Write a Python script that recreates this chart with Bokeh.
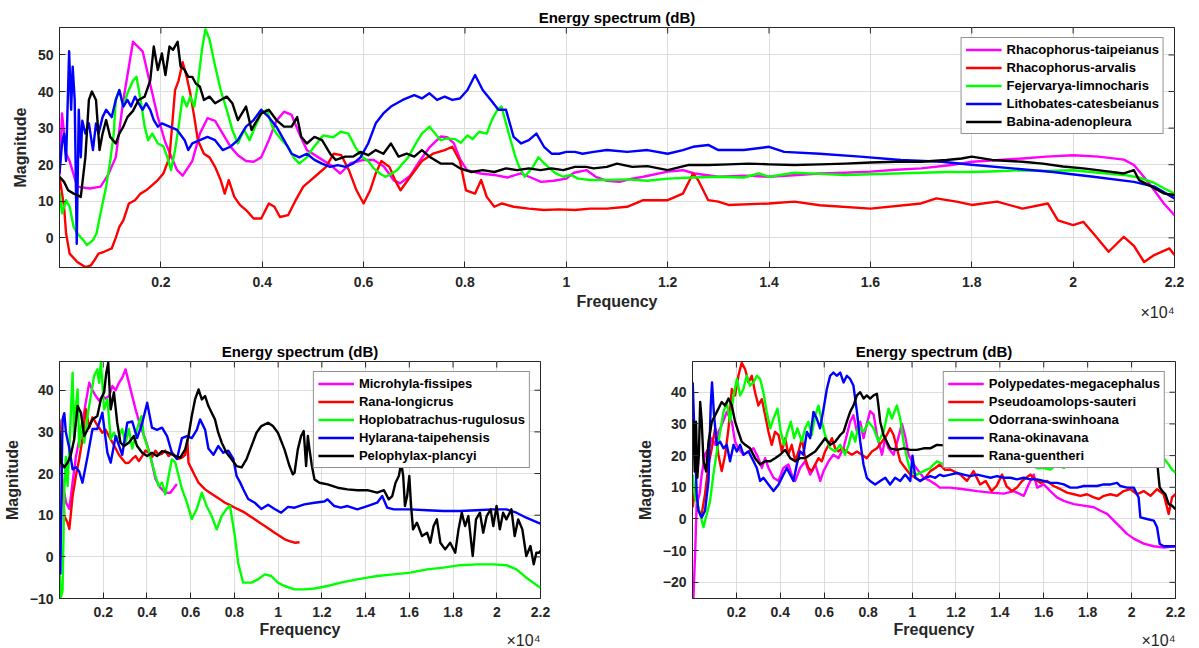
from bokeh.plotting import figure
from bokeh.layouts import column, row
from bokeh.models import Range1d, FixedTicker, Title
from bokeh.embed import file_html
from bokeh.resources import INLINE

# ---------------- data (x in units of 1e4 Hz) ----------------
X_TICKS = [0.2, 0.4, 0.6, 0.8, 1.0, 1.2, 1.4, 1.6, 1.8, 2.0, 2.2]
X_TICK_LABELS = ["0.2", "0.4", "0.6", "0.8", "1", "1.2", "1.4", "1.6", "1.8", "2", "2.2"]
TOP_Y_TICKS = [0, 10, 20, 30, 40, 50]
BL_Y_TICKS = [-10, 0, 10, 20, 30, 40]
BR_Y_TICKS = [-20, -10, 0, 10, 20, 30, 40]

TOP_NAMES = ["Rhacophorus-taipeianus", "Rhacophorus-arvalis", "Fejervarya-limnocharis",
             "Lithobates-catesbeianus", "Babina-adenopleura"]
BL_NAMES = ["Microhyla-fissipes", "Rana-longicrus", "Hoplobatrachus-rugulosus",
            "Hylarana-taipehensis", "Pelophylax-plancyi"]
BR_NAMES = ["Polypedates-megacephalus", "Pseudoamolops-sauteri", "Odorrana-swinhoana",
            "Rana-okinavana", "Rana-guentheri"]
COLORS = ["#FF00FF", "#FF0000", "#00FF00", "#0000FF", "#000000"]

TOP_TAIPEIANUS = [(0.0, 17), (0.005, 34), (0.013, 23), (0.02, 21), (0.035, 14), (0.06, 13.5), (0.081, 14),
    (0.095, 17), (0.111, 22), (0.126, 37.7), (0.145, 53.6), (0.164, 51), (0.179, 42), (0.194, 33),
    (0.209, 26), (0.232, 18.5), (0.243, 17), (0.262, 21), (0.277, 28.5), (0.292, 32.7), (0.307, 32),
    (0.322, 28.5), (0.337, 25), (0.352, 22.6), (0.368, 21), (0.383, 20.8), (0.398, 22), (0.413, 26.7),
    (0.428, 32), (0.443, 34.5), (0.458, 33.6), (0.473, 28.5), (0.488, 24), (0.511, 22), (0.534, 20),
    (0.554, 17.6), (0.574, 20.4), (0.6, 21.3), (0.62, 21.3), (0.64, 19.5), (0.659, 15.8), (0.672, 14.9),
    (0.692, 17), (0.712, 21.3), (0.731, 24.9), (0.752, 27.7), (0.765, 27.5), (0.778, 25.9), (0.791, 21.3),
    (0.804, 18.5), (0.831, 17.6), (0.857, 17.2), (0.884, 16.5), (0.91, 17.6), (0.93, 16.5), (0.95, 15.3),
    (0.975, 15.6), (1.0, 16.2), (1.015, 17.8), (1.04, 18.5), (1.058, 16.7), (1.08, 15.6), (1.105, 15.3),
    (1.13, 16.2), (1.152, 16.7), (1.2, 18.1), (1.23, 18.5), (1.253, 17.6), (1.3, 16.7), (1.354, 17),
    (1.4, 16.7), (1.448, 17.1), (1.5, 17.6), (1.549, 17.8), (1.6, 18.1), (1.651, 18.6), (1.7, 19),
    (1.76, 19.9), (1.8, 20.8), (1.846, 21.2), (1.9, 21.7), (1.947, 22.2), (2.0, 22.6), (2.05, 22.2),
    (2.1, 21.4), (2.12, 19.9), (2.15, 14.9), (2.179, 9.4), (2.2, 6.2)]

TOP_ARVALIS = [(0.0, 16.7), (0.009, 8.5), (0.013, 1.2), (0.02, -4.3), (0.035, -6.6), (0.051, -8), (0.062, -7.5),
    (0.069, -6.1), (0.077, -4.3), (0.088, -3.8), (0.103, -2.9), (0.111, 0), (0.118, 3), (0.126, 4.8),
    (0.137, 9.4), (0.149, 10.3), (0.16, 12.1), (0.171, 13), (0.183, 14.4), (0.194, 15.8), (0.205, 17.6),
    (0.217, 22), (0.228, 40.4), (0.235, 43), (0.243, 48), (0.251, 44), (0.258, 39.5), (0.266, 33),
    (0.273, 26.7), (0.285, 23), (0.296, 22), (0.307, 19.4), (0.318, 15.8), (0.326, 12.1), (0.334, 15.8),
    (0.345, 11.2), (0.356, 9), (0.368, 7.6), (0.383, 5.3), (0.398, 5.3), (0.413, 9.4), (0.424, 8.5),
    (0.435, 5.7), (0.451, 6.2), (0.466, 10.3), (0.481, 14), (0.496, 15.8), (0.511, 17.6), (0.526, 19.4),
    (0.541, 23), (0.556, 22.6), (0.571, 18.5), (0.586, 13), (0.6, 9.4), (0.613, 13), (0.624, 17.6),
    (0.635, 21), (0.651, 19.4), (0.662, 15.8), (0.673, 13), (0.692, 16.7), (0.715, 21), (0.737, 23),
    (0.76, 24), (0.775, 24.9), (0.79, 21), (0.802, 13), (0.82, 12.1), (0.832, 15.8), (0.843, 11.2),
    (0.858, 8.5), (0.873, 9.4), (0.896, 8.5), (0.926, 8), (0.956, 7.6), (0.986, 7.8), (1.017, 7.6),
    (1.047, 8), (1.08, 8), (1.12, 8.5), (1.152, 10.3), (1.2, 10.3), (1.23, 12.1), (1.25, 17.6),
    (1.26, 15.8), (1.28, 10.3), (1.3, 9.9), (1.32, 9), (1.4, 9.4), (1.45, 9.9), (1.5, 8.9), (1.6, 8),
    (1.7, 9.4), (1.73, 10.8), (1.77, 9.9), (1.8, 9), (1.85, 9.9), (1.9, 8), (1.95, 9.4), (1.97, 4.8),
    (2.0, 3.5), (2.02, 4.4), (2.04, 1.2), (2.07, -3.8), (2.1, 0.3), (2.12, -2.2), (2.14, -6.6),
    (2.16, -4.7), (2.19, -2.9), (2.2, -4.7)]

TOP_LIMNOCHARIS = [(0.0, 12.6), (0.005, 6.7), (0.013, 10.3), (0.02, 8.5), (0.028, 3), (0.035, 1.2), (0.047, -0.6),
    (0.054, -2), (0.066, -0.6), (0.073, 1.2), (0.081, 6.7), (0.092, 14), (0.1, 21), (0.107, 28.5),
    (0.111, 37.7), (0.118, 40.4), (0.126, 35.9), (0.134, 39.5), (0.145, 43), (0.152, 44), (0.16, 37.7),
    (0.168, 30.4), (0.175, 26.7), (0.183, 28.5), (0.194, 25.8), (0.205, 25), (0.213, 22), (0.22, 18.5),
    (0.228, 24), (0.235, 30.4), (0.243, 38.6), (0.251, 35.9), (0.258, 38.6), (0.266, 35.9), (0.273, 42),
    (0.281, 51.4), (0.288, 57), (0.296, 54.3), (0.307, 47), (0.318, 40.4), (0.33, 35), (0.341, 29.5),
    (0.352, 25.8), (0.364, 29.5), (0.375, 26.7), (0.386, 30.4), (0.398, 34), (0.409, 35), (0.42, 30.4),
    (0.428, 28.5), (0.439, 26.7), (0.451, 24.9), (0.462, 22), (0.473, 20.3), (0.488, 22), (0.5, 24.5),
    (0.52, 28), (0.54, 27.5), (0.555, 29), (0.57, 28.5), (0.585, 24.5), (0.598, 22), (0.609, 21),
    (0.62, 19), (0.632, 17.6), (0.643, 16.7), (0.655, 17.5), (0.666, 18.5), (0.677, 20.3), (0.688, 22),
    (0.703, 25.8), (0.715, 28.5), (0.73, 30.4), (0.741, 28.5), (0.752, 26.7), (0.765, 27.2), (0.78, 27),
    (0.792, 26), (0.805, 28), (0.815, 27), (0.828, 29), (0.843, 28.5), (0.853, 32.2), (0.864, 35),
    (0.872, 35.9), (0.881, 31.3), (0.892, 25.8), (0.9, 22), (0.907, 19.4), (0.918, 16.7), (0.934, 19.4),
    (0.945, 22), (0.952, 21), (0.964, 19.4), (0.979, 17.6), (0.994, 16.7), (1.009, 17.2), (1.023, 16.2),
    (1.047, 15.8), (1.08, 15.8), (1.12, 16), (1.16, 15.6), (1.2, 16.2), (1.25, 16.5), (1.3, 16.7),
    (1.35, 16.5), (1.38, 17.6), (1.4, 16.7), (1.45, 17.8), (1.5, 17.5), (1.55, 17.2), (1.6, 17.4),
    (1.65, 17.6), (1.7, 17.8), (1.75, 18), (1.8, 18), (1.85, 18.2), (1.9, 18.5), (1.95, 18.3),
    (2.0, 18.5), (2.05, 17.8), (2.1, 17.2), (2.13, 16.5), (2.16, 15), (2.18, 13.5), (2.2, 12.1)]

TOP_CATESBEIANUS = [(0.0, 17.6), (0.005, 25.8), (0.009, 28.5), (0.013, 21), (0.019, 51), (0.023, 35), (0.026, 46.8),
    (0.03, 37.7), (0.034, -1.6), (0.038, 35), (0.042, 22), (0.045, 32), (0.051, 28.5), (0.058, 31.3),
    (0.066, 24), (0.072, 31.3), (0.077, 28.5), (0.085, 33), (0.092, 35), (0.103, 33), (0.111, 37.7),
    (0.118, 40.4), (0.126, 35.9), (0.134, 37.7), (0.141, 35.9), (0.149, 38.6), (0.156, 36.8), (0.164, 35),
    (0.171, 36.8), (0.179, 35), (0.186, 32.2), (0.194, 30.4), (0.202, 31.3), (0.217, 30.4), (0.232, 29.5),
    (0.247, 26.7), (0.254, 24), (0.262, 25.8), (0.277, 26.7), (0.292, 27.6), (0.307, 26.7), (0.322, 24),
    (0.337, 24.9), (0.352, 26.7), (0.368, 30.4), (0.383, 32.2), (0.398, 35), (0.413, 33), (0.428, 30.4),
    (0.443, 26.7), (0.458, 23), (0.473, 22), (0.488, 23), (0.503, 21.3), (0.518, 20.3), (0.534, 19.4),
    (0.549, 19.9), (0.564, 19.4), (0.579, 20.3), (0.594, 22), (0.609, 25.8), (0.624, 31.3), (0.639, 34),
    (0.654, 35.9), (0.677, 37.7), (0.7, 39), (0.715, 38.1), (0.73, 39.5), (0.745, 37.7), (0.76, 38.6),
    (0.775, 37.7), (0.79, 38.1), (0.805, 40.4), (0.82, 44.5), (0.835, 40.4), (0.851, 37.7), (0.866, 35),
    (0.881, 35), (0.896, 27.6), (0.911, 25.8), (0.926, 26.7), (0.941, 28.5), (0.956, 24.9), (0.971, 23),
    (0.986, 23), (1.0, 23.5), (1.017, 23.5), (1.032, 23), (1.054, 23.5), (1.08, 24), (1.12, 23.5),
    (1.16, 24), (1.2, 23), (1.23, 24), (1.25, 24.9), (1.28, 25.4), (1.3, 24), (1.35, 24), (1.4, 24.9),
    (1.43, 23.5), (1.5, 23), (1.58, 22.2), (1.66, 21.3), (1.74, 20.8), (1.8, 20), (1.88, 19), (1.96, 18),
    (2.04, 16.7), (2.12, 15.3), (2.16, 14), (2.2, 10.8)]

TOP_ADENOPLEURA = [(0.0, 16.7), (0.009, 15.3), (0.017, 13), (0.028, 12.1), (0.035, 11.7), (0.042, 11.2), (0.051, 22),
    (0.058, 37.7), (0.064, 40), (0.072, 37.7), (0.079, 24), (0.085, 28.5), (0.092, 32.2), (0.1, 27.6),
    (0.111, 25.8), (0.118, 28.5), (0.126, 30.4), (0.134, 33), (0.145, 34.7), (0.156, 37.7), (0.168, 38.6),
    (0.179, 43), (0.186, 52.3), (0.194, 45.9), (0.202, 50.4), (0.209, 44.5), (0.217, 52.3), (0.224, 51.4),
    (0.233, 53.6), (0.239, 46.8), (0.247, 45.9), (0.254, 44), (0.262, 44), (0.269, 42.2), (0.277, 41.3),
    (0.285, 37.7), (0.296, 38.6), (0.307, 36.8), (0.318, 37.7), (0.33, 38.6), (0.341, 36.8), (0.352, 32.2),
    (0.368, 35.9), (0.379, 29.5), (0.386, 31.3), (0.398, 34), (0.413, 35), (0.428, 32.2), (0.443, 30.4),
    (0.458, 30.4), (0.469, 33), (0.477, 27.6), (0.488, 25.8), (0.503, 27.6), (0.518, 26.7), (0.534, 23),
    (0.545, 21.3), (0.564, 22.2), (0.579, 22.2), (0.594, 23.5), (0.609, 22.6), (0.624, 24), (0.639, 23),
    (0.654, 25.8), (0.669, 22.2), (0.685, 23), (0.7, 22.2), (0.715, 24), (0.73, 22.2), (0.752, 20.3),
    (0.775, 20.3), (0.79, 19), (0.813, 18), (0.835, 18.5), (0.858, 18), (0.881, 19), (0.903, 18.5),
    (0.926, 19), (0.949, 18.5), (0.971, 19), (0.994, 18.5), (1.017, 19.4), (1.039, 19.4), (1.054, 19),
    (1.08, 19.4), (1.1, 20.3), (1.13, 19.4), (1.16, 19.6), (1.2, 18.5), (1.24, 19.9), (1.28, 19.9),
    (1.32, 20.1), (1.36, 20.3), (1.4, 20.1), (1.45, 19.9), (1.5, 20.1), (1.55, 20.3), (1.6, 20.6),
    (1.65, 20.8), (1.7, 20.8), (1.75, 21.3), (1.78, 21.7), (1.8, 22.2), (1.84, 21.3), (1.9, 20.8),
    (1.94, 20.3), (1.98, 19.5), (2.02, 19), (2.06, 18.3), (2.1, 17.6), (2.12, 18.5), (2.13, 15.8),
    (2.155, 14), (2.18, 12.1), (2.2, 11.7)]

BL_FISSIPES = [(0.02, 16), (0.03, 13), (0.045, 11.5), (0.06, 18), (0.075, 24), (0.09, 28), (0.105, 32.2),
    (0.12, 37), (0.136, 41.8), (0.151, 40), (0.166, 38.6), (0.181, 37.5), (0.196, 38.6), (0.211, 38),
    (0.226, 38.6), (0.242, 41), (0.257, 40), (0.272, 41.8), (0.287, 43), (0.302, 45), (0.325, 40.2),
    (0.348, 35.4), (0.37, 31.4), (0.393, 28.2), (0.416, 24.2), (0.439, 18.7), (0.461, 16.6),
    (0.484, 15.4), (0.507, 15.4), (0.53, 17), (0.537, 17.5)]

BL_LONGICRUS = [(0.0, 33), (0.007, 24), (0.022, 9.8), (0.037, 8.2), (0.045, 6.7), (0.06, 14.6), (0.075, 19.4),
    (0.09, 23.5), (0.105, 28.3), (0.12, 35.5), (0.136, 31), (0.151, 33.5), (0.166, 32.2), (0.181, 31),
    (0.196, 29.8), (0.211, 30.5), (0.226, 29), (0.242, 27.5), (0.257, 26), (0.272, 24.5), (0.287, 23.5),
    (0.302, 22.5), (0.317, 22.6), (0.333, 23.5), (0.348, 24.2), (0.363, 23), (0.378, 24.2), (0.393, 25.5),
    (0.408, 25), (0.424, 24), (0.439, 25.5), (0.454, 24.5), (0.469, 24.8), (0.484, 25.5), (0.499, 24.2),
    (0.514, 25), (0.53, 24.2), (0.545, 23.5), (0.56, 23.8), (0.575, 24.5), (0.585, 28), (0.59, 22.6),
    (0.605, 21), (0.62, 19.4), (0.636, 17.8), (0.651, 17), (0.666, 16.2), (0.688, 15.4), (0.711, 14.6),
    (0.734, 13.8), (0.757, 13), (0.78, 12.4), (0.802, 11.8), (0.825, 11.2), (0.848, 10.6), (0.87, 9.8),
    (0.893, 9), (0.916, 8.2), (0.939, 7.4), (0.961, 6.6), (0.984, 5.8), (1.007, 5), (1.03, 4.2),
    (1.052, 3.8), (1.075, 3.4), (1.098, 3.5)]

BL_RUGULOSUS = [(0.0, -3.8), (0.007, -9.6), (0.014, -8), (0.022, 16.3), (0.029, 24), (0.037, 17), (0.048, 29.8),
    (0.06, 44.2), (0.067, 28), (0.075, 36.2), (0.083, 40.2), (0.09, 26.5), (0.102, 32.2), (0.113, 27.4),
    (0.128, 33.8), (0.143, 38.6), (0.158, 43.4), (0.173, 45), (0.181, 41.8), (0.189, 46.6), (0.196, 41.8),
    (0.204, 35.4), (0.219, 37.8), (0.234, 28.3), (0.249, 29.8), (0.264, 28.3), (0.287, 30.7), (0.302, 27.4),
    (0.317, 30.7), (0.333, 26), (0.348, 29.2), (0.363, 32.2), (0.375, 33.8), (0.386, 29), (0.401, 26.6),
    (0.423, 22.6), (0.439, 19.4), (0.454, 17), (0.469, 17.8), (0.484, 15), (0.499, 19.4), (0.514, 23.4),
    (0.53, 22.6), (0.545, 19.4), (0.56, 16.3), (0.583, 13), (0.605, 9.1), (0.628, 11.5), (0.651, 15.4),
    (0.673, 12.2), (0.696, 9.8), (0.719, 6.6), (0.742, 9.8), (0.764, 11.5), (0.78, 12.2), (0.802, 5),
    (0.817, -1.4), (0.84, -6.2), (0.878, -6.2), (0.908, -5.4), (0.939, -4.2), (0.969, -4.6), (0.999, -6.2),
    (1.029, -7), (1.075, -7.8), (1.12, -7.8), (1.166, -7.6), (1.226, -7), (1.287, -6.2), (1.362, -5.4),
    (1.408, -5), (1.453, -4.6), (1.529, -4.2), (1.605, -3.8), (1.681, -3), (1.756, -2.6), (1.832, -2),
    (1.908, -1.8), (1.984, -1.8), (2.044, -2), (2.09, -3), (2.135, -5), (2.188, -7), (2.2, -7.4)]

BL_TAIPEHENSIS = [(0.0, 8), (0.004, -4), (0.01, 20), (0.014, 33), (0.022, 34.5), (0.029, 30), (0.045, 26),
    (0.06, 21), (0.075, 21.5), (0.09, 20.5), (0.105, 17.8), (0.128, 24), (0.151, 30.7), (0.173, 30.7),
    (0.196, 34.6), (0.219, 25), (0.234, 22.6), (0.257, 29), (0.287, 24.5), (0.31, 32.2), (0.333, 32.5),
    (0.355, 28.5), (0.378, 32), (0.401, 37), (0.423, 31), (0.446, 30.5), (0.469, 31), (0.492, 29),
    (0.514, 25), (0.537, 23.5), (0.56, 28.5), (0.583, 29), (0.605, 28.5), (0.628, 30.5), (0.643, 33),
    (0.666, 30.5), (0.681, 26), (0.704, 24.5), (0.726, 26.6), (0.749, 25), (0.772, 25.5), (0.795, 23.5),
    (0.81, 19.4), (0.825, 18), (0.84, 16.3), (0.863, 13.9), (0.893, 13), (0.923, 11.5), (0.954, 12.5),
    (0.984, 11.5), (1.014, 10.6), (1.045, 12), (1.075, 11.8), (1.12, 12.6), (1.166, 13), (1.211, 13.3),
    (1.226, 13.8), (1.257, 12.2), (1.287, 11.8), (1.317, 12.2), (1.362, 11.4), (1.408, 12.2),
    (1.453, 13), (1.476, 14.6), (1.499, 11.8), (1.529, 11.4), (1.605, 11.4), (1.681, 11.2), (1.756, 11),
    (1.832, 11), (1.908, 11.2), (1.984, 11.4), (2.044, 11.4), (2.09, 10.6), (2.135, 9.4), (2.188, 8.2),
    (2.2, 8)]

BL_PLANCYI = [(0.0, 29.8), (0.007, 22.6), (0.022, 21.5), (0.037, 22.6), (0.052, 24.5), (0.067, 28.2), (0.083, 36.2),
    (0.098, 34.6), (0.113, 29), (0.128, 30.5), (0.151, 33), (0.173, 33.8), (0.189, 37.8), (0.204, 39.5),
    (0.214, 44.2), (0.223, 46.6), (0.234, 35.4), (0.249, 39.5), (0.264, 32.2), (0.279, 27.4), (0.295, 26.6),
    (0.317, 27.4), (0.34, 29), (0.355, 26.6), (0.378, 25), (0.401, 24.2), (0.423, 25), (0.446, 24.2),
    (0.469, 25.4), (0.499, 25), (0.53, 24.2), (0.552, 23.8), (0.575, 25.8), (0.59, 29), (0.605, 33.8),
    (0.62, 37.8), (0.636, 40.2), (0.651, 37.8), (0.666, 38.6), (0.681, 36.2), (0.696, 34.6), (0.711, 33),
    (0.726, 29.8), (0.742, 27.4), (0.764, 25), (0.787, 23.4), (0.81, 21.8), (0.833, 21.5), (0.855, 23.4),
    (0.878, 26.6), (0.901, 29.8), (0.923, 31.4), (0.954, 32.2), (0.976, 31.4), (0.999, 29.8), (1.029, 25.8),
    (1.052, 21.8), (1.067, 19.8), (1.075, 20.2), (1.09, 25.8), (1.105, 29), (1.117, 30.2), (1.128, 21.8),
    (1.136, 29), (1.143, 26), (1.154, 22), (1.166, 18.6), (1.189, 17.8), (1.226, 17.4), (1.272, 16.6),
    (1.317, 16.2), (1.362, 16), (1.408, 16), (1.453, 15.4), (1.484, 16), (1.506, 13.8), (1.522, 14.6),
    (1.537, 17.8), (1.552, 19.4), (1.563, 22.6), (1.572, 19.4), (1.58, 12.2), (1.59, 14.6), (1.6, 19.4),
    (1.608, 12.2), (1.617, 6.6), (1.635, 8.2), (1.658, 5), (1.681, 5.8), (1.696, 3.4), (1.711, 7.4),
    (1.726, 9), (1.742, 3.4), (1.764, 1.8), (1.787, 3.4), (1.81, 1), (1.825, 6.6), (1.84, 10.6),
    (1.855, 7.4), (1.87, 9.8), (1.89, 0.2), (1.905, 9), (1.923, 10.6), (1.938, 5.8), (1.954, 9.8),
    (1.972, 11.4), (1.984, 7.4), (1.999, 12.2), (2.014, 6.6), (2.029, 10.6), (2.044, 9), (2.067, 11.4),
    (2.082, 5), (2.098, 9), (2.117, 6.6), (2.135, 0.2), (2.154, 2.6), (2.169, -1.8), (2.181, 1),
    (2.194, 1), (2.2, 1.5)]

BR_MEGACEPHALUS = [(0.004, -25.4), (0.012, -10.9), (0.019, 4.7), (0.032, 7.8), (0.042, 14), (0.057, 20.3),
    (0.073, 22.3), (0.088, 25.5), (0.103, 23.4), (0.118, 27.5), (0.133, 29.6), (0.156, 33.8), (0.179, 30.7),
    (0.194, 24.4), (0.209, 22.3), (0.232, 20.3), (0.255, 21.3), (0.278, 22.3), (0.3, 19.2), (0.316, 16.1),
    (0.331, 19.2), (0.346, 16.1), (0.369, 13), (0.392, 12), (0.414, 16.1), (0.437, 17.2), (0.452, 14),
    (0.468, 12), (0.49, 16.1), (0.513, 18.2), (0.536, 14), (0.559, 17.2), (0.582, 12), (0.597, 15.1),
    (0.62, 18.2), (0.642, 20.3), (0.665, 19.2), (0.688, 22.3), (0.703, 26.5), (0.718, 30.7), (0.733, 32.7),
    (0.749, 27.5), (0.764, 30.7), (0.779, 25.5), (0.794, 30), (0.809, 34), (0.825, 33), (0.84, 26.5),
    (0.863, 20.3), (0.878, 25.5), (0.893, 22.3), (0.916, 20.3), (0.939, 26), (0.954, 30), (0.969, 26),
    (0.984, 20.3), (1.007, 17.2), (1.03, 15.1), (1.053, 13), (1.083, 12), (1.106, 11), (1.126, 9.9),
    (1.174, 9.9), (1.235, 9.4), (1.296, 8.8), (1.357, 8.3), (1.418, 8.0), (1.463, 8.8), (1.509, 7.3),
    (1.531, 10.9), (1.554, 14), (1.57, 9.9), (1.6, 10.9), (1.63, 8.8), (1.66, 6.8), (1.691, 5.7),
    (1.737, 4.7), (1.782, 4.2), (1.828, 3.7), (1.858, 2.6), (1.889, 1.6), (1.919, -0.5), (1.949, -2.6),
    (1.979, -4.7), (2.01, -6.2), (2.055, -7.8), (2.101, -8.6), (2.146, -9), (2.2, -8.6)]

BR_SAUTERI = [(0.001, 3.7), (0.012, 9.9), (0.027, 2.6), (0.042, 1.6), (0.057, 7.8), (0.073, 17.2), (0.088, 22.3),
    (0.103, 28.6), (0.118, 20.3), (0.133, 15.1), (0.149, 20.3), (0.164, 28.6), (0.179, 41), (0.194, 39),
    (0.209, 45.2), (0.224, 49.3), (0.24, 47.2), (0.255, 43.1), (0.27, 45.2), (0.285, 40), (0.3, 35.8),
    (0.316, 37.8), (0.331, 32.7), (0.346, 27.5), (0.361, 23.4), (0.376, 27.5), (0.392, 26.5), (0.407, 21.3),
    (0.422, 25.5), (0.437, 20.3), (0.452, 23.4), (0.468, 18.2), (0.483, 21.3), (0.498, 25.5), (0.513, 19.2),
    (0.528, 16.1), (0.543, 15.1), (0.559, 17.2), (0.574, 19.2), (0.589, 18.2), (0.604, 21.3), (0.62, 23.4),
    (0.635, 25.5), (0.65, 22.3), (0.665, 21.3), (0.68, 22.3), (0.703, 21.3), (0.726, 20.3), (0.749, 21.3),
    (0.771, 20.3), (0.794, 19.2), (0.817, 21.3), (0.84, 22.3), (0.863, 24.4), (0.885, 26.5), (0.9, 28.6),
    (0.916, 26.5), (0.931, 22.3), (0.946, 18.2), (0.969, 16.1), (0.992, 14), (1.015, 13), (1.037, 12),
    (1.06, 13), (1.083, 15.1), (1.106, 16.1), (1.126, 17.2), (1.15, 15.5), (1.174, 15.6), (1.22, 14),
    (1.25, 12), (1.28, 15.1), (1.31, 10.9), (1.335, 12), (1.362, 8.8), (1.385, 10.4), (1.41, 14),
    (1.43, 10.4), (1.455, 8.8), (1.478, 9.9), (1.501, 12), (1.52, 13), (1.539, 14), (1.56, 12.5),
    (1.585, 11.4), (1.615, 12), (1.645, 10.4), (1.676, 9.4), (1.706, 8.3), (1.737, 7.8), (1.767, 7.3),
    (1.797, 7.8), (1.828, 6.8), (1.851, 6.3), (1.874, 7.3), (1.904, 7.8), (1.934, 7.3), (1.964, 8.8),
    (1.995, 9.4), (2.025, 7.8), (2.055, 8.8), (2.086, 7.3), (2.116, 9.4), (2.146, 7.8), (2.169, 1.6),
    (2.184, 6.8), (2.2, 7.8)]

BR_SWINHOANA = [(0.001, 14), (0.012, 6.8), (0.027, 3.7), (0.042, -0.5), (0.05, -2.6), (0.065, 1.5), (0.08, 5.7),
    (0.095, 14), (0.111, 21.3), (0.126, 27.5), (0.141, 33.8), (0.156, 36.9), (0.171, 30.7), (0.187, 39),
    (0.202, 44.2), (0.217, 39), (0.232, 41), (0.247, 45.2), (0.262, 42.1), (0.278, 43.1), (0.293, 45.2),
    (0.308, 44.2), (0.323, 40), (0.338, 33.8), (0.354, 28.6), (0.369, 31.7), (0.387, 34.8), (0.402, 27.5),
    (0.417, 23.4), (0.433, 27.5), (0.448, 30.7), (0.463, 25.5), (0.478, 28.6), (0.498, 24.4), (0.513, 28.6),
    (0.528, 30.7), (0.543, 26.5), (0.559, 32.7), (0.574, 35.8), (0.589, 30.7), (0.604, 26.5), (0.627, 22.3),
    (0.65, 21.3), (0.673, 23.4), (0.695, 20.3), (0.711, 23.4), (0.726, 27.5), (0.741, 24.4), (0.756, 29.6),
    (0.779, 27.5), (0.802, 30.7), (0.825, 28.6), (0.847, 24.4), (0.87, 27.5), (0.893, 34.8), (0.908, 31.7),
    (0.931, 35.8), (0.946, 31.7), (0.961, 24.4), (0.977, 19.2), (0.992, 15.1), (1.022, 14), (1.053, 15.1),
    (1.083, 16.1), (1.113, 18.2), (1.144, 17.2), (1.174, 18.2), (1.205, 17.2), (1.235, 19.2),
    (1.265, 17.2), (1.296, 18.2), (1.326, 18.7), (1.357, 17.2), (1.387, 18.2), (1.418, 17.2),
    (1.448, 18.7), (1.478, 17.7), (1.509, 18.2), (1.539, 17.2), (1.569, 16.1), (1.6, 16.1), (1.63, 15.6),
    (1.661, 17.2), (1.691, 16.1), (1.721, 17.7), (1.752, 18.2), (1.782, 17.2), (1.812, 17.7),
    (1.843, 18.2), (1.873, 17.7), (1.904, 17.2), (1.934, 18.2), (1.964, 17.7), (1.995, 18.2),
    (2.025, 18.2), (2.055, 18.7), (2.086, 18.2), (2.116, 20.3), (2.146, 19.2), (2.169, 17.2),
    (2.184, 15.6), (2.2, 14.6)]

BR_OKINAVANA = [(0.001, 43.1), (0.007, 30.7), (0.013, 20.3), (0.019, 7.8), (0.027, 2.6), (0.042, 0.5), (0.057, 2.6),
    (0.073, 12), (0.083, 35.8), (0.089, 43.1), (0.098, 32.7), (0.111, 23.4), (0.126, 24.4), (0.141, 22.3),
    (0.156, 23.4), (0.171, 18.2), (0.187, 23.4), (0.202, 21.3), (0.217, 23.4), (0.232, 20.3), (0.255, 21.3),
    (0.278, 18.2), (0.293, 16.1), (0.308, 12), (0.323, 13), (0.346, 10.9), (0.369, 8.8), (0.392, 10.9),
    (0.414, 14), (0.43, 16.1), (0.445, 14), (0.46, 12), (0.475, 17.2), (0.49, 21.3), (0.505, 20.3),
    (0.521, 27.5), (0.536, 25.5), (0.551, 33.8), (0.566, 31.7), (0.581, 28.6), (0.597, 34.8), (0.612, 41),
    (0.627, 45.2), (0.642, 46.2), (0.657, 45.2), (0.673, 46.2), (0.688, 43.1), (0.703, 45.2), (0.718, 44.2),
    (0.733, 42.1), (0.749, 33.8), (0.764, 24.4), (0.779, 17.2), (0.794, 13), (0.809, 12), (0.832, 10.9),
    (0.855, 12), (0.878, 13), (0.9, 10.9), (0.923, 13), (0.946, 12), (0.969, 14), (0.992, 12), (1.002, 20),
    (1.015, 13), (1.037, 12), (1.06, 13), (1.083, 13.5), (1.106, 13), (1.126, 14), (1.144, 13.5),
    (1.174, 14), (1.205, 14.5), (1.235, 14), (1.265, 13.5), (1.296, 14), (1.326, 13.5), (1.357, 13),
    (1.387, 13.5), (1.418, 13), (1.448, 13), (1.478, 12.5), (1.509, 13), (1.539, 12.5), (1.569, 12.5),
    (1.6, 12), (1.63, 11.4), (1.661, 11.4), (1.691, 10.9), (1.721, 9.9), (1.752, 9.9), (1.782, 10.4),
    (1.812, 10.4), (1.843, 10.4), (1.873, 10.9), (1.904, 10.9), (1.934, 11.4), (1.949, 10.4),
    (1.979, 9.9), (2.01, 9.9), (2.032, 6.8), (2.04, 0.5), (2.07, 0), (2.101, -0.5), (2.116, -2.6),
    (2.128, -7.8), (2.146, -8.6), (2.2, -8.6)]

BR_GUENTHERI = [(0.0, 22), (0.004, 30.7), (0.01, 15), (0.016, 30.7), (0.022, 13), (0.029, 20.3), (0.035, 36.9),
    (0.042, 30.7), (0.05, 18.2), (0.062, 15), (0.073, 24.4), (0.088, 30.7), (0.103, 32.7), (0.118, 34.8),
    (0.133, 36.9), (0.149, 35.8), (0.164, 38), (0.179, 35.8), (0.194, 30.7), (0.209, 27.5), (0.224, 24.4),
    (0.24, 23.4), (0.262, 22.3), (0.285, 19.2), (0.308, 17.2), (0.331, 18.2), (0.354, 18.2), (0.376, 19.2),
    (0.399, 20.3), (0.422, 21.8), (0.445, 19.2), (0.468, 18.2), (0.49, 19.2), (0.513, 19.2), (0.536, 20.3),
    (0.559, 21.3), (0.582, 23.4), (0.604, 25.5), (0.627, 23.4), (0.65, 24.4), (0.673, 26.5), (0.688, 27.5),
    (0.703, 30.7), (0.718, 33.8), (0.733, 35.8), (0.749, 39), (0.764, 40), (0.779, 38), (0.794, 39),
    (0.809, 38), (0.825, 39), (0.84, 39.5), (0.847, 35.8), (0.855, 30.7), (0.87, 26.5), (0.885, 24.4),
    (0.9, 22.3), (0.931, 21.8), (0.961, 22.3), (0.992, 21.8), (1.022, 21.8), (1.053, 22.3), (1.083, 22.3),
    (1.113, 23.4), (1.3, 22.5), (1.5, 22.3), (1.7, 22), (1.9, 21.5), (2.0, 21), (2.05, 20.5), (2.1, 19.5),
    (2.116, 18.5), (2.122, 14), (2.128, 10), (2.14, 8.8), (2.154, 7.8), (2.169, 4.7), (2.184, 4.2),
    (2.2, 3.1)]

TOP_SERIES = [TOP_TAIPEIANUS, TOP_ARVALIS, TOP_LIMNOCHARIS, TOP_CATESBEIANUS, TOP_ADENOPLEURA]
BL_SERIES = [BL_FISSIPES, BL_LONGICRUS, BL_RUGULOSUS, BL_TAIPEHENSIS, BL_PLANCYI]
BR_SERIES = [BR_MEGACEPHALUS, BR_SAUTERI, BR_SWINHOANA, BR_OKINAVANA, BR_GUENTHERI]

# ---------------- styling ----------------
FONT = "Liberation Sans"
AX_COLOR = "#262626"
GRID_COLOR = "#dedede"
TICK_PX = 6
X_MIN, X_MAX = 0, 2.2


def make_panel(fw, fh, borders, yrange, yticks, series, names, tick_standoff, label_standoff):
    bl, br, bt, bb = borders
    p = figure(frame_width=fw, frame_height=fh,
               min_border_left=bl, min_border_right=br, min_border_top=bt, min_border_bottom=bb,
               x_range=Range1d(X_MIN, X_MAX), y_range=Range1d(*yrange),
               output_backend="svg", toolbar_location=None, title="Energy spectrum (dB)")
    p.background_fill_color = "white"
    p.border_fill_color = "white"
    p.outline_line_color = AX_COLOR
    p.outline_line_width = 1
    p.title.text_font = FONT
    p.title.text_font_style = "bold"
    p.title.text_font_size = "15px"
    p.title.text_color = "#000000"
    p.title.align = "center"
    p.title.standoff = 4

    xt = FixedTicker(ticks=X_TICKS)
    yt = FixedTicker(ticks=yticks)
    p.xaxis.ticker = xt
    p.yaxis.ticker = yt
    p.xaxis.major_label_overrides = {t: l for t, l in zip(X_TICKS, X_TICK_LABELS)}
    p.xaxis.axis_label = "Frequency"
    p.yaxis.axis_label = "Magnitude"
    for ax in (p.xaxis[0], p.yaxis[0]):
        ax.major_tick_in = TICK_PX
        ax.major_tick_out = 0
        ax.minor_tick_line_color = None
        ax.axis_line_color = AX_COLOR
        ax.major_tick_line_color = AX_COLOR
        ax.major_label_text_font = FONT
        ax.major_label_text_font_style = "bold"
        ax.major_label_text_font_size = "14px"
        ax.major_label_text_color = AX_COLOR
        ax.axis_label_text_font = FONT
        ax.axis_label_text_font_style = "bold"
        ax.axis_label_text_font_size = "16px"
        ax.axis_label_text_color = AX_COLOR
    p.xaxis[0].major_label_standoff = tick_standoff
    p.xaxis[0].axis_label_standoff = label_standoff
    p.yaxis[0].major_label_standoff = 6
    p.yaxis[0].axis_label_standoff = 6

    p.xgrid.ticker = xt
    p.ygrid.ticker = yt
    p.xgrid.grid_line_color = GRID_COLOR
    p.ygrid.grid_line_color = GRID_COLOR

    # inward box ticks on the top and right edges (MATLAB-style box), sized in pixels
    y0, y1 = yrange
    ty = TICK_PX * (y1 - y0) / fh
    tx = TICK_PX * (X_MAX - X_MIN) / fw
    p.segment(x0=X_TICKS, y0=[y1] * len(X_TICKS), x1=X_TICKS, y1=[y1 - ty] * len(X_TICKS),
              line_color=AX_COLOR, line_width=1)
    p.segment(x0=[X_MAX] * len(yticks), y0=yticks, x1=[X_MAX - tx] * len(yticks), y1=yticks,
              line_color=AX_COLOR, line_width=1)

    for pts, name, col in zip(series, names, COLORS):
        xs = [a for a, _ in pts]
        ys = [b for _, b in pts]
        p.line(xs, ys, line_color=col, line_width=2.4, line_join="round", legend_label=name)

    leg = p.legend[0]
    leg.location = "top_right"
    leg.margin = 10
    leg.padding = 4
    leg.spacing = 3
    leg.label_height = 15
    leg.glyph_height = 15
    leg.glyph_width = 36
    leg.label_standoff = 5
    leg.label_text_font = FONT
    leg.label_text_font_style = "bold"
    leg.label_text_font_size = "13px"
    leg.label_text_color = "#000000"
    leg.border_line_color = AX_COLOR
    leg.border_line_width = 1
    leg.background_fill_color = "white"
    leg.background_fill_alpha = 1.0

    # x-axis exponent, right-aligned under the axis, pulled up level with the axis label
    exp = Title(text="×10⁴", align="right", vertical_align="top", standoff=-17,
                text_font=FONT, text_font_style="normal", text_font_size="16px", text_color=AX_COLOR)
    p.add_layout(exp, "below")
    return p


# top panel: frame x 59..1174, y 27..267
top = make_panel(1115, 240, (59, 25, 27, 55), (-8.1, 57.5), TOP_Y_TICKS, TOP_SERIES, TOP_NAMES, 9, 3)
# bottom panels: left frame x 59..540, right frame x 692..1175, y 361..598
bl = make_panel(481, 237, (59, 60, 39, 50), (-10, 46.9), BL_Y_TICKS, BL_SERIES, BL_NAMES, 8, 1)
br = make_panel(483, 237, (92, 24, 39, 50), (-25.1, 49.7), BR_Y_TICKS, BR_SERIES, BR_NAMES, 8, 1)

layout = column(top, row(bl, br))
open("out.html", "w").write(file_html(layout, INLINE))
